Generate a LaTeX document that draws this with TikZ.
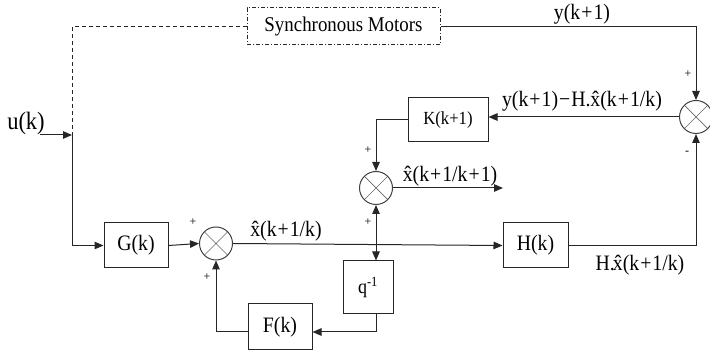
\documentclass[tikz,border=0pt]{standalone}
\usepackage{fontspec}
\usepackage{graphicx}
\setmainfont{Liberation Serif}
\usetikzlibrary{arrows.meta,calc}
\newcommand{\xh}{\^{x}}
\newcommand{\pl}{\hspace{0.05em}+\hspace{0.05em}}
\newcommand{\sq}[1]{\scalebox{0.9}[1]{#1}}
\begin{document}
\begin{tikzpicture}[x=1pt,y=-1pt,
  ln/.style={draw=black!85, line width=1pt},
  arr/.style={ln, -{Triangle[length=9pt,width=7.5pt]}},
  dsh/.style={draw=black!85, line width=1pt, dash pattern=on 4pt off 3pt},
  blk/.style={draw=black!85, line width=1pt, inner sep=0pt, font=\fontsize{22}{24}\selectfont},
  lbl/.style={inner sep=0pt, font=\fontsize{22}{24}\selectfont},
  sgn/.style={inner sep=0pt, font=\fontsize{12}{13}\selectfont},
  sumnode/.style={circle, draw=black!75, line width=1pt, minimum size=33pt, inner sep=0pt,
    path picture={\draw[black!60, line width=0.7pt]
      (path picture bounding box.north west) -- (path picture bounding box.south east)
      (path picture bounding box.north east) -- (path picture bounding box.south west);}}
]
\useasboundingbox (0,0) rectangle (710,352);
\fill[white] (0,0) rectangle (710,352);

% blocks
\node[blk, minimum width=193pt, minimum height=37pt, dash pattern=on 4pt off 2pt on 1pt off 2pt,
  font=\fontsize{21}{23}\selectfont] (M) at (343.5,26.5) {\sq{Synchronous Motors}};
\node[blk, minimum width=64pt, minimum height=45pt] (G) at (136,245.5) {\sq{G(k)}};
\node[blk, minimum width=64pt, minimum height=46pt] (F) at (280,327) {\sq{F(k)}};
\node[blk, minimum width=50pt, minimum height=53pt, font=\fontsize{20}{22}\selectfont] (Q) at (368,287.5) {\raisebox{-2pt}{\sq{q\textsuperscript{-1}}}};
\node[blk, minimum width=65pt, minimum height=45pt] (H) at (535.5,245.5) {\sq{H(k)}};
\node[blk, minimum width=80pt, minimum height=44pt, font=\fontsize{18.5}{21}\selectfont] (K) at (448,120) {\sq{K(k+1)}};

% summers
\node[sumnode] (S1) at (216,243.5) {};
\node[sumnode] (S2) at (376,188) {};
\node[sumnode] (S3) at (696,117) {};

% coordinates
\coordinate (u0) at (40,135);
\coordinate (j1) at (72,135);
\coordinate (j2) at (376,243.5);
\coordinate (qb) at (376,332);
\coordinate (xo) at (503,188);

% connectors
\draw[arr] (u0) -- (j1);
\draw[dsh] (M.west) -| (j1);
\draw[arr] (j1) |- (G.west);
\draw[arr] (G.east) -- (S1.west);
\draw[arr] (S1.east) -- (H.west);
\draw[arr] (j2) -- (S2.south);
\draw[arr] (j2) -- (j2 |- Q.north);
\draw[arr] (j2 |- Q.south) -- (qb) -- (qb -| F.east);
\draw[arr] (qb -| F.west) -| (S1.south);
\draw[arr] (S2.east) -- (xo);
\draw[arr] (S3.west) -- (S3.west -| K.east);
\draw[arr] (K.west) -| (S2.north);
\draw[arr] (M.east) -| (S3.north);
\draw[arr] (H.east) -| (S3.south);

% labels
\node[lbl, font=\fontsize{25}{27}\selectfont] (lu) at (26,123) {\sq{u(k)}};
\node[lbl] (ly) at (582,14) {\sq{y(k\pl1)}};
\node[lbl] (le) at (582,101) {\sq{y(k\pl1)\hspace{0.05em}\textminus\hspace{0.05em}H.\xh(k\pl1/k)}};
\node[lbl] (lx2) at (450,176) {\sq{\xh(k\pl1/k\pl1)}};
\node[lbl] (lx1) at (286,231) {\sq{\xh(k\pl1/k)}};
\node[lbl] (lh) at (640,265) {\sq{H.\hspace{-0.1em}\xh(k\pl1/k)}};

% signs
\node[sgn] at (193,222) {+};
\node[sgn] at (207,277) {+};
\node[sgn] at (368,150) {+};
\node[sgn] at (368,222) {+};
\node[sgn] at (688,74) {+};
\node[sgn] at (687,153) {-};
\end{tikzpicture}
\end{document}
